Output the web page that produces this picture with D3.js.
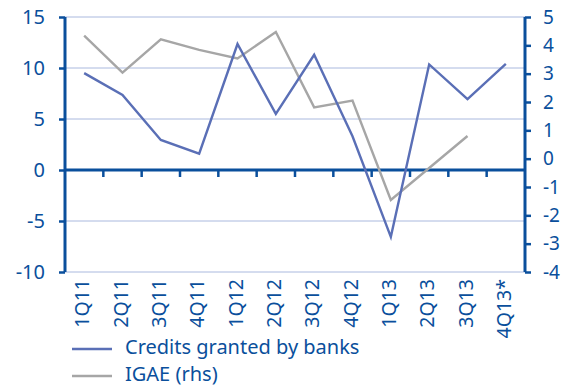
<!DOCTYPE html>
<html>
<head>
<meta charset="utf-8">
<script src="https://cdn.jsdelivr.net/npm/d3@7"></script>
<style>
  body { margin: 0; background: #fff; }
  svg text { font-family: "Noto Sans", "Open Sans", sans-serif; fill: #0a4f9c; }
</style>
</head>
<body>
<script>
//categories and series
var quarters = ["1Q11", "2Q11", "3Q11", "4Q11", "1Q12", "2Q12", "3Q12", "4Q12", "1Q13", "2Q13", "3Q13", "4Q13*"];
var credits = [9.5, 7.35, 2.95, 1.6, 12.35, 5.5, 11.3, 3.3, -6.55, 10.35, 6.95, 10.4];
var igae = [4.34, 3.04, 4.21, 3.84, 3.54, 4.47, 1.81, 2.05, -1.46, -0.33, 0.8, null];
var leftTicks = [15, 10, 5, 0, -5, -10];
var rightTicks = [5, 4, 3, 2, 1, 0, -1, -2, -3, -4];

var width = 566, height = 388;
var axisColor = "#0a4f9c";

var svg = d3.select("body").append("svg")
    .attr("width", width)
    .attr("height", height);

//plot frame
var plotLeft = 65, plotRight = 525, plotTop = 17, plotBottom = 272;

var x = d3.scaleBand().domain(quarters).range([plotLeft, plotRight]);
var yL = d3.scaleLinear().domain([-10, 15]).range([plotBottom, plotTop]);
var yR = d3.scaleLinear().domain([-4, 5]).range([plotBottom, plotTop]);

//plain hyphen for negatives, like the original
var fmt = function(d){ return String(d); };

//gridlines
svg.selectAll(".grid")
    .data(leftTicks.filter(function(d){ return d != 0; }))
    .enter().append("line")
    .attr("x1", plotLeft).attr("x2", plotRight)
    .attr("y1", function(d){ return yL(d); })
    .attr("y2", function(d){ return yL(d); })
    .attr("stroke", "#aab9de")
    .attr("stroke-width", 1);

//left axis
var leftAxis = svg.append("g")
    .attr("transform", "translate(" + plotLeft + ",0)")
    .call(d3.axisLeft(yL).tickValues(leftTicks).tickFormat(fmt).tickSize(6).tickPadding(14));
leftAxis.select(".domain").remove();
leftAxis.selectAll("line").attr("stroke", axisColor).attr("stroke-width", 2.5);
leftAxis.selectAll("text").style("font-size", "20px").attr("fill", axisColor);
svg.append("line")
    .attr("x1", plotLeft).attr("x2", plotLeft)
    .attr("y1", plotTop).attr("y2", plotBottom)
    .attr("stroke", axisColor).attr("stroke-width", 3);

//right axis
var rightAxis = svg.append("g")
    .attr("transform", "translate(" + plotRight + ",0)")
    .call(d3.axisRight(yR).tickValues(rightTicks).tickFormat(fmt).tickSize(6).tickPadding(12));
rightAxis.select(".domain").remove();
rightAxis.selectAll("line").attr("stroke", axisColor).attr("stroke-width", 2.5);
rightAxis.selectAll("text").style("font-size", "19px").attr("fill", axisColor);
svg.append("line")
    .attr("x1", plotRight).attr("x2", plotRight)
    .attr("y1", plotTop).attr("y2", plotBottom)
    .attr("stroke", axisColor).attr("stroke-width", 3);

//zero line with category ticks
svg.append("line")
    .attr("x1", plotLeft).attr("x2", plotRight)
    .attr("y1", yL(0)).attr("y2", yL(0))
    .attr("stroke", axisColor).attr("stroke-width", 3);
svg.selectAll(".xtick")
    .data(quarters.slice(1))
    .enter().append("line")
    .attr("x1", function(d){ return x(d); })
    .attr("x2", function(d){ return x(d); })
    .attr("y1", yL(0)).attr("y2", yL(0) + 7)
    .attr("stroke", axisColor).attr("stroke-width", 2.5);

//category labels
svg.selectAll(".xlabel")
    .data(quarters)
    .enter().append("text")
    .attr("transform", function(d){
        return "translate(" + (x(d) + x.bandwidth() / 2) + ",279) rotate(-90)";
    })
    .attr("text-anchor", "end")
    .attr("dominant-baseline", "middle")
    .style("font-size", "19.5px")
    .text(function(d){ return d; });

//lines
var lineL = d3.line()
    .x(function(d, i){ return x(quarters[i]) + x.bandwidth() / 2; })
    .y(function(d){ return yL(d); });
var lineR = d3.line()
    .defined(function(d){ return d != null; })
    .x(function(d, i){ return x(quarters[i]) + x.bandwidth() / 2; })
    .y(function(d){ return yR(d); });

svg.append("path")
    .datum(igae)
    .attr("d", lineR)
    .attr("fill", "none")
    .attr("stroke", "#a6a6a6")
    .attr("stroke-width", 2.4);

svg.append("path")
    .datum(credits)
    .attr("d", lineL)
    .attr("fill", "none")
    .attr("stroke", "#5a6fb6")
    .attr("stroke-width", 2.4);

//legend
var legend = [
    {name: "Credits granted by banks", color: "#5a6fb6", y: 349},
    {name: "IGAE (rhs)", color: "#a6a6a6", y: 376}
];
legend.forEach(function(l){
    svg.append("line")
        .attr("x1", 72).attr("x2", 112)
        .attr("y1", l.y).attr("y2", l.y)
        .attr("stroke", l.color).attr("stroke-width", 2.4);
    svg.append("text")
        .attr("x", 125).attr("y", l.y)
        .attr("dominant-baseline", "middle")
        .style("font-size", "20px")
        .text(l.name);
});
</script>
</body>
</html>
